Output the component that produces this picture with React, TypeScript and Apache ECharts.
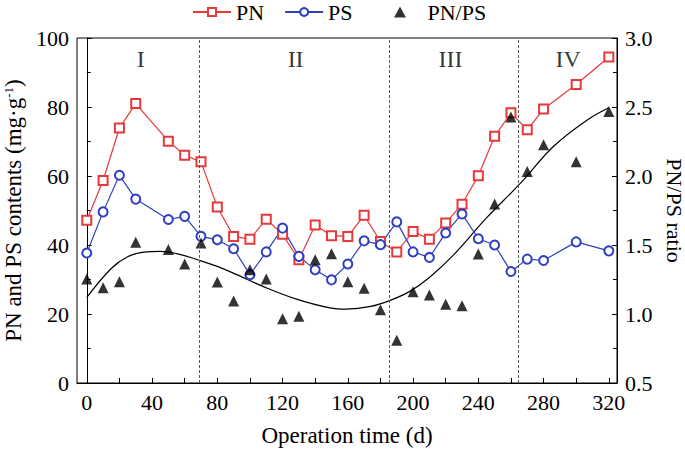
import React, { useEffect, useRef } from "react";
import * as echarts from "echarts";

const days = [0, 10, 20, 30, 50, 60, 70, 80, 90, 100, 110, 120, 130, 140, 150, 160, 170, 180, 190, 200, 210, 220, 230, 240, 250, 260, 270, 280, 300, 320];
const pnValues = [47.2, 58.7, 73.9, 81.0, 70.1, 66.0, 64.1, 51.0, 42.5, 41.7, 47.5, 43.1, 35.7, 45.8, 42.7, 42.5, 48.6, 41.0, 38.0, 43.9, 41.7, 46.4, 51.8, 60.1, 71.5, 78.3, 73.4, 79.4, 86.5, 94.5];
const psValues = [37.7, 49.6, 60.2, 53.3, 47.4, 48.3, 42.5, 41.5, 38.9, 31.4, 38.0, 44.9, 36.7, 32.8, 29.9, 34.5, 41.2, 40.1, 46.7, 38.0, 36.4, 43.5, 49.0, 41.8, 40.0, 32.3, 35.9, 35.5, 40.9, 38.3];
const ratioValues = [1.254, 1.19, 1.234, 1.52, 1.468, 1.362, 1.514, 1.232, 1.094, 1.321, 1.254, 0.966, 0.983, 1.393, 1.437, 1.234, 1.186, 1.031, 0.809, 1.162, 1.138, 1.07, 1.06, 1.435, 1.797, 2.428, 2.033, 2.227, 2.104, 2.468];

// fitted trend curve
const fitDays = [0, 15, 25, 35, 45, 55, 68, 80, 92, 108, 128, 149, 159, 174, 186, 198, 210, 225, 245, 266, 286, 307, 320];
const fitRatio = [1.12, 1.33, 1.415, 1.448, 1.454, 1.438, 1.393, 1.345, 1.285, 1.2, 1.11, 1.045, 1.036, 1.055, 1.099, 1.164, 1.265, 1.43, 1.696, 1.95, 2.214, 2.408, 2.495];

const stageBounds = [69, 185.5, 264.5];
const stageLabels = ["I", "II", "III", "IV"];
const stageLabelDays = [33, 128, 223, 295];
const stageLabelLevel = 94;

const xTicks = [0, 20, 40, 60, 80, 100, 120, 140, 160, 180, 200, 220, 240, 260, 280, 300, 320];
const xLabels = [0, 40, 80, 120, 160, 200, 240, 280, 320];

const FONT = '"Liberation Serif"';

export default function App() {
  const ref = useRef<HTMLDivElement>(null);
  useEffect(() => {
    if (!ref.current) return;
    const chart = echarts.init(ref.current, undefined, { renderer: "svg" });
    const red = "#e8393a";
    const blue = "#2f3fbf";
    const legendText = { fontFamily: FONT, fontSize: 22, color: "#000" };
    chart.setOption({
      animation: false,
      textStyle: { fontFamily: FONT, color: "#000" },
      legend: [
        {
          top: 1,
          left: 192,
          padding: 0,
          itemWidth: 38,
          itemHeight: 10,
          itemGap: 20,
          textStyle: legendText,
          data: ["PN", "PS"],
        },
        {
          top: 1,
          left: 394,
          padding: 0,
          itemWidth: 12,
          itemHeight: 11,
          textStyle: legendText,
          formatter: (n: string) => "\u00a0\u00a0\u00a0" + n,
          data: [{ name: "PN/PS", icon: "triangle" }],
        },
      ],
      grid: {
        left: 77,
        right: 68,
        top: 38,
        bottom: 68,
        show: true,
        borderColor: "#000",
        borderWidth: 1,
        outerBoundsMode: "none",
        containLabel: false,
      },
      xAxis: {
        type: "value",
        min: -6,
        max: 325,
        name: "Operation time (d)",
        nameLocation: "middle",
        nameGap: 41,
        nameTextStyle: { fontFamily: FONT, fontSize: 23, color: "#000" },
        axisLine: { lineStyle: { color: "#000" } },
        axisTick: { inside: true, length: 5, customValues: xTicks, lineStyle: { color: "#000" } },
        axisLabel: { customValues: xLabels, fontFamily: FONT, fontSize: 22, color: "#000", margin: 8 },
        splitLine: { show: false },
      },
      yAxis: [
        {
          type: "value",
          min: 0,
          max: 100,
          interval: 20,
          name: "PN and PS contents (mg·g{sup|-1})",
          nameLocation: "middle",
          nameGap: 45,
          nameTextStyle: {
            fontFamily: FONT,
            fontSize: 23,
            color: "#000",
            rich: { sup: { fontFamily: FONT, fontSize: 13, verticalAlign: "top", padding: [0, 0, 10, 0] } },
          },
          axisLine: { show: true, lineStyle: { color: "#000" } },
          axisTick: { inside: true, length: 5, lineStyle: { color: "#000" } },
          minorTick: { show: true, splitNumber: 2, length: 4, lineStyle: { color: "#000" } },
          axisLabel: { fontFamily: FONT, fontSize: 22, color: "#000", margin: 8 },
          splitLine: { show: false },
        },
        {
          type: "value",
          min: 0.5,
          max: 3.0,
          interval: 0.5,
          position: "right",
          name: "PN/PS ratio",
          nameLocation: "middle",
          nameRotate: -90,
          nameGap: 42,
          nameTextStyle: { fontFamily: FONT, fontSize: 22, color: "#000" },
          axisLine: { show: true, lineStyle: { color: "#000" } },
          axisTick: { inside: true, length: 5, lineStyle: { color: "#000" } },
          minorTick: { show: true, splitNumber: 2, length: 4, lineStyle: { color: "#000" } },
          axisLabel: {
            fontFamily: FONT,
            fontSize: 22,
            color: "#000",
            margin: 8,
            formatter: (v: number) => v.toFixed(1),
          },
          splitLine: { show: false },
        },
      ],
      series: [
        {
          name: "PN",
          type: "line",
          yAxisIndex: 0,
          data: days.map((d, i) => [d, pnValues[i]]),
          symbol: "emptyRect",
          symbolSize: 9,
          lineStyle: { color: red, width: 1.2 },
          itemStyle: { color: red, borderColor: red, borderWidth: 1.2 },
          z: 3,
          markLine: {
            silent: true,
            symbol: "none",
            label: { show: false },
            lineStyle: { color: "#555", type: [3, 2], width: 1 },
            data: stageBounds.map((b) => ({ xAxis: b })),
          },
        },
        {
          name: "PS",
          type: "line",
          yAxisIndex: 0,
          data: days.map((d, i) => [d, psValues[i]]),
          symbol: "emptyCircle",
          symbolSize: 9,
          lineStyle: { color: blue, width: 1.2 },
          itemStyle: { color: blue, borderColor: blue, borderWidth: 1.2 },
          z: 3,
        },
        {
          name: "PN/PS",
          type: "scatter",
          yAxisIndex: 1,
          data: days.map((d, i) => [d, ratioValues[i]]),
          symbol: "triangle",
          symbolSize: 11,
          itemStyle: { color: "#000" },
          z: 4,
        },
        {
          name: "fit",
          type: "line",
          yAxisIndex: 1,
          data: fitDays.map((d, i) => [d, fitRatio[i]]),
          smooth: 0.4,
          showSymbol: false,
          symbol: "none",
          lineStyle: { color: "#000", width: 1.2 },
          z: 2,
        },
        {
          name: "stages",
          type: "scatter",
          yAxisIndex: 0,
          symbolSize: 0,
          silent: true,
          data: stageLabels.map((s, i) => ({ value: [stageLabelDays[i], stageLabelLevel], name: s })),
          label: {
            show: true,
            position: "inside",
            formatter: (p: any) => p.name,
            fontFamily: FONT,
            fontSize: 24,
            color: "#000",
          },
        },
      ],
    });
    return () => chart.dispose();
  }, []);
  return <div ref={ref} style={{ width: 685, height: 451, position: "absolute", left: 0, top: 0 }} />;
}
